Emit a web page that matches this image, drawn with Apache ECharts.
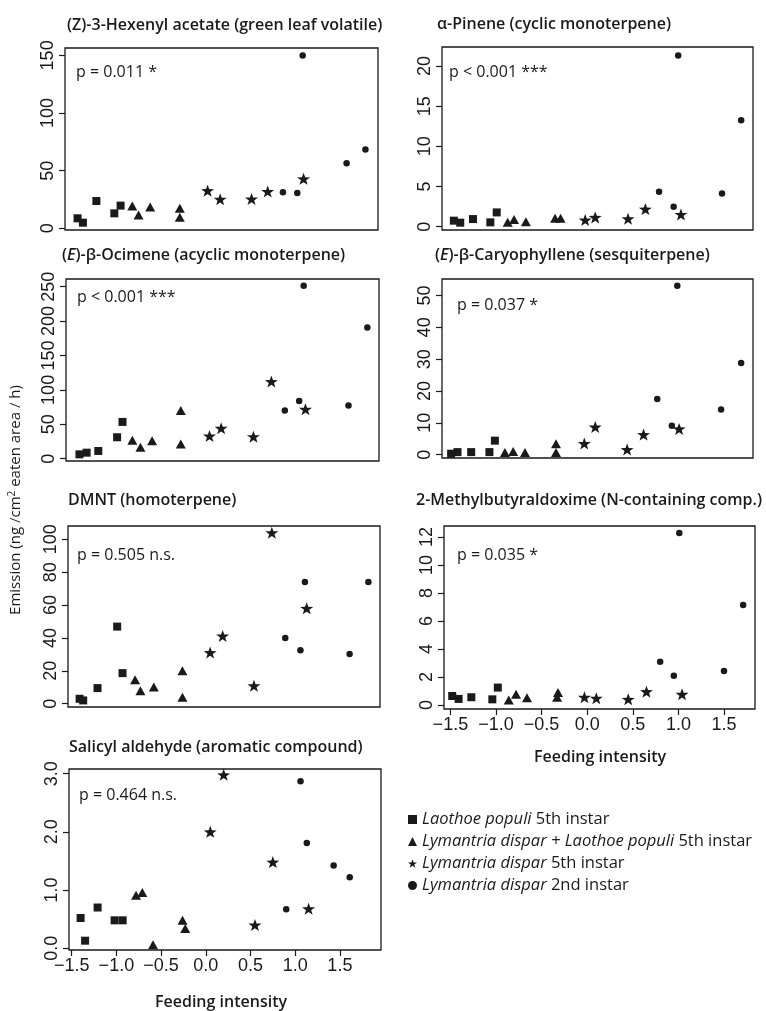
<!DOCTYPE html>
<html><head><meta charset="utf-8">
<script src="https://cdn.jsdelivr.net/npm/echarts@6/dist/echarts.min.js"></script>
<style>html,body{margin:0;padding:0;background:#fff}#c{width:766px;height:1011px}</style>
</head><body><div id="c"></div>
<script>
// ---------- DATA ----------
const groupNames = ['Laothoe populi 5th instar', 'Lymantria dispar + Laothoe populi 5th instar', 'Lymantria dispar 5th instar', 'Lymantria dispar 2nd instar'];
const panelTitles = [
  '(Z)-3-Hexenyl acetate (green leaf volatile)',
  'α-Pinene (cyclic monoterpene)',
  '({i|E})-β-Ocimene (acyclic monoterpene)',
  '({i|E})-β-Caryophyllene (sesquiterpene)',
  'DMNT (homoterpene)',
  '2-Methylbutyraldoxime (N-containing comp.)',
  'Salicyl aldehyde (aromatic compound)'
];
const pLabels = ['p = 0.011 *', 'p < 0.001 ***', 'p < 0.001 ***', 'p = 0.037 *', 'p = 0.505 n.s.', 'p = 0.035 *', 'p = 0.464 n.s.'];
const xTicks = [-1.5, -1.0, -0.5, 0.0, 0.5, 1.0, 1.5];
const yTicks1 = [0, 50, 100, 150];
const yTicks2 = [0, 5, 10, 15, 20];
const yTicks3 = [0, 50, 100, 150, 200, 250];
const yTicks4 = [0, 10, 20, 30, 40, 50];
const yTicks5 = [0, 20, 40, 60, 80, 100];
const yTicks6 = [0, 2, 4, 6, 8, 10, 12];
const yTicks7 = [0, 1, 2, 3];

// Panel 1: (Z)-3-Hexenyl acetate
const hex_sq   = [[-1.39,8.7],[-1.33,4.9],[-1.18,23.7],[-0.98,13.0],[-0.91,19.7]];
const hex_tri  = [[-0.78,19.4],[-0.71,11.6],[-0.58,18.5],[-0.25,17.4],[-0.25,9.6]];
const hex_star = [[0.06,32.7],[0.20,25.2],[0.55,25.5],[0.73,31.9],[1.13,42.9]];
const hex_dot  = [[0.90,31.3],[1.06,30.7],[1.12,150],[1.61,56.5],[1.82,68.3]];
// Panel 2: alpha-Pinene
const pin_sq   = [[-1.44,0.75],[-1.37,0.50],[-1.23,0.95],[-1.04,0.54],[-0.97,1.78]];
const pin_tri  = [[-0.85,0.54],[-0.78,0.91],[-0.65,0.62],[-0.33,1.04],[-0.27,1.04]];
const pin_star = [[0.00,0.83],[0.11,1.16],[0.47,0.99],[0.66,2.19],[1.05,1.53]];
const pin_dot  = [[0.81,4.35],[0.97,2.48],[1.02,21.3],[1.50,4.14],[1.71,13.25]];
// Panel 3: (E)-beta-Ocimene
const oci_sq   = [[-1.38,6.3],[-1.30,8.7],[-1.17,11.2],[-0.96,31.1],[-0.90,53.4]];
const oci_tri  = [[-0.79,26.7],[-0.70,16.5],[-0.57,26.2],[-0.25,69.9],[-0.25,21.4]];
const oci_star = [[0.07,33.0],[0.20,44.2],[0.56,32.0],[0.76,112.1],[1.14,71.8]];
const oci_dot  = [[0.91,69.9],[1.07,84.0],[1.12,251.5],[1.62,77.2],[1.83,190.8]];
// Panel 4: (E)-beta-Caryophyllene
const car_sq   = [[-1.47,0.3],[-1.40,0.8],[-1.25,0.8],[-1.05,0.8],[-0.99,4.4]];
const car_tri  = [[-0.88,0.7],[-0.79,1.0],[-0.66,0.7],[-0.32,3.4],[-0.32,0.7]];
const car_star = [[-0.01,3.5],[0.11,8.7],[0.46,1.6],[0.64,6.3],[1.03,8.1]];
const car_dot  = [[0.79,17.5],[0.95,9.1],[1.01,53.1],[1.49,14.2],[1.71,28.8]];
// Panel 5: DMNT
const dmn_sq   = [[-1.40,3.0],[-1.36,2.0],[-1.20,9.5],[-0.98,46.9],[-0.92,18.6]];
const dmn_tri  = [[-0.78,14.5],[-0.72,7.9],[-0.57,10.1],[-0.25,20.0],[-0.25,4.0]];
const dmn_star = [[0.06,31.1],[0.20,41.2],[0.55,10.9],[0.75,104.0],[1.14,58.0]];
const dmn_dot  = [[0.90,40.0],[1.07,32.5],[1.12,74.1],[1.62,30.3],[1.83,74.1]];
// Panel 6: 2-Methylbutyraldoxime
const oxi_sq   = [[-1.48,0.64],[-1.41,0.43],[-1.27,0.55],[-1.04,0.40],[-0.98,1.24]];
const oxi_tri  = [[-0.86,0.36],[-0.78,0.76],[-0.66,0.52],[-0.33,0.55],[-0.32,0.88]];
const oxi_star = [[-0.03,0.55],[0.10,0.48],[0.45,0.40],[0.65,0.95],[1.04,0.76]];
const oxi_dot  = [[0.80,3.09],[0.95,2.09],[1.01,12.28],[1.50,2.42],[1.71,7.13]];
// Panel 7: Salicyl aldehyde
const sal_sq   = [[-1.40,0.52],[-1.35,0.13],[-1.21,0.70],[-1.02,0.48],[-0.93,0.48]];
const sal_tri  = [[-0.78,0.91],[-0.71,0.96],[-0.59,0.06],[-0.26,0.48],[-0.23,0.34]];
const sal_star = [[0.05,2.00],[0.20,2.98],[0.55,0.40],[0.75,1.48],[1.15,0.68]];
const sal_dot  = [[0.90,0.67],[1.06,2.87],[1.13,1.81],[1.43,1.42],[1.61,1.22]];

const panelData = [
  [hex_sq, hex_tri, hex_star, hex_dot],
  [pin_sq, pin_tri, pin_star, pin_dot],
  [oci_sq, oci_tri, oci_star, oci_dot],
  [car_sq, car_tri, car_star, car_dot],
  [dmn_sq, dmn_tri, dmn_star, dmn_dot],
  [oxi_sq, oxi_tri, oxi_star, oxi_dot],
  [sal_sq, sal_tri, sal_star, sal_dot]
];
const panelYTicks = [yTicks1, yTicks2, yTicks3, yTicks4, yTicks5, yTicks6, yTicks7];

// ---------- LAYOUT / STYLE ----------
const INK = '#1a1a1a';
const LEFT_X = [-1.53, 1.96], RIGHT_X = [-1.57, 1.84];
const layout = [
  {l:65,  t:48,  w:313, h:182, xr:LEFT_X,  yr:[-1.45,156.4], xAx:false, tx:67,  ty:25,  px:76,  py:72},
  {l:442, t:47,  w:311, h:183, xr:RIGHT_X, yr:[-0.41,22.36], xAx:false, tx:437, ty:24,  px:449, py:72},
  {l:66,  t:279, w:313, h:182, xr:LEFT_X,  yr:[-3.4,261.2],  xAx:false, tx:62,  ty:255, px:77,  py:297},
  {l:442, t:279, w:311, h:179, xr:RIGHT_X, yr:[-1.05,55.2],  xAx:false, tx:435, ty:255, px:457, py:305},
  {l:68,  t:526, w:312, h:181, xr:LEFT_X,  yr:[-2.0,108.1],  xAx:false, tx:68,  ty:500, px:77,  py:555},
  {l:444, t:526, w:311, h:183, xr:RIGHT_X, yr:[-0.29,12.78], xAx:true,  tx:416, ty:500, px:457, py:555},
  {l:69,  t:769, w:312, h:181, xr:LEFT_X,  yr:[-0.03,3.08],  xAx:true,  tx:69,  ty:747, px:79,  py:795}
];
const starPath = 'path://M50,0L61.8,33.8L97.6,34.5L69,56.2L79.4,90.5L50,70L20.6,90.5L31,56.2L2.4,34.5L38.2,33.8Z';
const symbols = ['rect', 'triangle', starPath, 'circle'];
const symSizes = [8, [10, 9], [13, 12], 6.5];
const TICK_FONT = 'Liberation Sans';
const TXT_FONT = 'Open Sans';

const grids = [], xAxes = [], yAxes = [], series = [], graphics = [];
layout.forEach((L, i) => {
  grids.push({left:L.l, top:L.t, width:L.w, height:L.h, show:true, borderColor:INK, borderWidth:1.3, backgroundColor:'transparent', outerBoundsMode:'none'});
  xAxes.push({
    gridIndex:i, type:'value', min:L.xr[0], max:L.xr[1], show:L.xAx, position:'bottom',
    axisLine:{show:false, onZero:false}, splitLine:{show:false},
    axisTick:{show:true, length:6, lineStyle:{color:INK, width:1.2}, customValues:xTicks},
    axisLabel:{show:true, customValues:xTicks, margin:7, fontSize:18, fontFamily:TICK_FONT, color:INK,
      formatter: v => v.toFixed(1).replace('-', '\u2212')}
  });
  const yt = panelYTicks[i];
  yAxes.push({
    gridIndex:i, type:'value', min:L.yr[0], max:L.yr[1], position:'left',
    axisLine:{show:false, onZero:false}, splitLine:{show:false},
    axisTick:{show:true, length:6, lineStyle:{color:INK, width:1.2}, customValues:yt},
    axisLabel:{customValues:yt, rotate:90, margin:8, fontSize:18, fontFamily:TICK_FONT, color:INK,
      formatter: v => (i === 6 ? v.toFixed(1) : String(v))}
  });
  panelData[i].forEach((d, g) => {
    series.push({type:'scatter', name:groupNames[g], xAxisIndex:i, yAxisIndex:i, data:d,
      symbol:symbols[g], symbolSize:symSizes[g], itemStyle:{color:INK, opacity:1},
      silent:true, emphasis:{disabled:true}, animation:false});
  });
  graphics.push({type:'text', x:L.tx, y:L.ty, style:{text:panelTitles[i], fill:INK,
    fontFamily:TXT_FONT, fontSize:16, fontWeight:600, textAlign:'left', textVerticalAlign:'middle', align:'left', verticalAlign:'middle',
    rich:{i:{fontStyle:'italic', fontFamily:TXT_FONT, fontSize:16, fontWeight:600, fill:INK}}}});
  graphics.push({type:'text', x:L.px, y:L.py, style:{text:pLabels[i], fill:INK,
    fontFamily:TXT_FONT, fontSize:16, fontWeight:500, textAlign:'left', textVerticalAlign:'middle', align:'left', verticalAlign:'middle'}});
});

// axis titles
graphics.push({type:'text', x:600, y:757, style:{text:'Feeding intensity', fill:INK, fontFamily:TXT_FONT, fontSize:16, fontWeight:600,
  textAlign:'center', textVerticalAlign:'middle', align:'center', verticalAlign:'middle'}});
graphics.push({type:'text', x:221, y:1002, style:{text:'Feeding intensity', fill:INK, fontFamily:TXT_FONT, fontSize:16, fontWeight:600,
  textAlign:'center', textVerticalAlign:'middle', align:'center', verticalAlign:'middle'}});
graphics.push({type:'text', x:16, y:500, rotation:Math.PI/2, style:{text:'Emission (ng /cm{s|2} eaten area / h)', fill:INK,
  fontFamily:TXT_FONT, fontSize:15, lineHeight:18, textAlign:'center', textVerticalAlign:'middle', align:'center', verticalAlign:'middle',
  rich:{s:{fontFamily:TXT_FONT, fontSize:10, lineHeight:18, verticalAlign:'top', fill:INK}}}});

const legendText = {
  'Laothoe populi 5th instar': '{i|Laothoe populi} 5th instar',
  'Lymantria dispar + Laothoe populi 5th instar': '{i|Lymantria dispar + Laothoe populi} 5th instar',
  'Lymantria dispar 5th instar': '{i|Lymantria dispar} 5th instar',
  'Lymantria dispar 2nd instar': '{i|Lymantria dispar} 2nd instar'
};

const chart = echarts.init(document.getElementById('c'), null, {renderer:'canvas'});
chart.setOption({
  backgroundColor:'#fff',
  animation:false,
  grid:grids, xAxis:xAxes, yAxis:yAxes, series:series,
  legend:{
    data:groupNames.map(n => ({name:n})), orient:'vertical', left:408, top:810,
    itemWidth:9, itemHeight:9, itemGap:3, padding:0, selectedMode:false,
    formatter: n => legendText[n],
    textStyle:{color:INK, fontFamily:TXT_FONT, fontSize:16.5, lineHeight:19,
      rich:{i:{fontStyle:'italic', fontFamily:TXT_FONT, fontSize:16.5, lineHeight:19, color:INK}}}
  },
  graphic:graphics
});
</script></body></html>
